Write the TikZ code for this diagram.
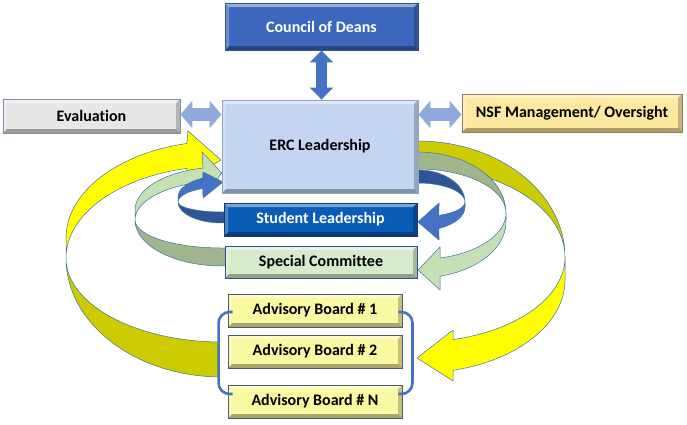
\documentclass[tikz,border=0pt]{standalone}
\usepackage{fontspec}
\setmainfont{Carlito}[Ligatures=NoCommon]
\usetikzlibrary{arrows.meta,calc}
\definecolor{ribline}{HTML}{41719C}
\definecolor{yf}{HTML}{FFFF00}
\definecolor{yb}{HTML}{CCCC00}
\definecolor{gf}{HTML}{C5E0B4}
\definecolor{gb}{HTML}{9FB68D}
\definecolor{bf}{HTML}{4472C4}
\definecolor{bb}{HTML}{2F5597}
\definecolor{deansfill}{HTML}{3B68BC}
\definecolor{deansline}{HTML}{2F528F}
\definecolor{evalfill}{HTML}{E7E7E7}
\definecolor{evalline}{HTML}{7F8FA9}
\definecolor{ercfill}{HTML}{C3D5F1}
\definecolor{ercline}{HTML}{8FA3C4}
\definecolor{nsffill}{HTML}{FFE9A0}
\definecolor{nsfline}{HTML}{8C7E5A}
\definecolor{studfill}{HTML}{0A5DB6}
\definecolor{studline}{HTML}{1F3864}
\definecolor{specfill}{HTML}{D6EBCC}
\definecolor{specline}{HTML}{2F528F}
\definecolor{advfill}{HTML}{FAF8A0}
\definecolor{advline}{HTML}{4F5B70}
\definecolor{darrlight}{HTML}{8FAADC}
\definecolor{darrdark}{HTML}{4472C4}
\definecolor{brack}{HTML}{4472C4}
\begin{document}
\begin{tikzpicture}[x=1pt,y=-1pt,
  rib/.style={draw=ribline,line width=0.5pt,line join=round},
  bevel/.style={path picture={
    \coordinate (pnw) at (path picture bounding box.north west);
    \coordinate (pne) at (path picture bounding box.north east);
    \coordinate (psw) at (path picture bounding box.south west);
    \coordinate (pse) at (path picture bounding box.south east);
    \fill[white,opacity=.45] (pnw) -- (pne) -- ([shift={(-4pt,-4pt)}]pne) -- ([shift={(4pt,-4pt)}]pnw) -- cycle;
    \fill[white,opacity=.25] (pnw) -- ([shift={(4pt,-4pt)}]pnw) -- ([shift={(4pt,4pt)}]psw) -- (psw) -- cycle;
    \fill[black,opacity=.22] (pne) -- (pse) -- ([shift={(-4pt,4pt)}]pse) -- ([shift={(-4pt,-4pt)}]pne) -- cycle;
    \fill[black,opacity=.32] (psw) -- (pse) -- ([shift={(-4pt,4pt)}]pse) -- ([shift={(4pt,4pt)}]psw) -- cycle;
  }},
  boxbase/.style={rectangle,inner sep=0pt,line width=0.9pt,bevel,
    font=\fontsize{16}{19}\selectfont\bfseries},
  dbl/.style={line width=13pt,{Triangle[length=12pt,width=27pt]}-{Triangle[length=12pt,width=27pt]}},
  dblv/.style={line width=11pt,{Triangle[length=12pt,width=23pt]}-{Triangle[length=12pt,width=23pt]}}
]
\useasboundingbox (0,0) rectangle (687,424);

% ---------- curved ribbon arrows ----------
% left yellow (back then front)
\filldraw[rib,fill=yb] ($(222,258)+(180:156 and 84)$) arc[start angle=180,end angle=91,x radius=156,y radius=84]
  -- ($(222,258)+(91:156 and 119)$) arc[start angle=91,end angle=180,x radius=156,y radius=119] -- cycle;
\filldraw[rib,fill=yf] ($(222,258)+(180:156 and 92)$) arc[start angle=180,end angle=257,x radius=156,y radius=92]
  -- (187,181) -- (221,160) -- (188,131)
  -- ($(222,238)+(257:156 and 97)$) arc[start angle=257,end angle=180,x radius=156,y radius=97] -- cycle;
% right yellow
\filldraw[rib,fill=yb] ($(418,257)+(-100:147 and 116)$) arc[start angle=-100,end angle=0,x radius=147,y radius=116]
  arc[start angle=0,end angle=-100,x radius=147,y radius=90] -- cycle;
\filldraw[rib,fill=yf] (565,257) arc[start angle=0,end angle=76.2,x radius=147,y radius=85]
  -- (453,330) -- (417,358) -- (453,381)
  -- ($(418,280)+(76.2:147 and 93)$) arc[start angle=76.2,end angle=0,x radius=147,y radius=93] -- cycle;
% left green
\filldraw[rib,fill=gb] ($(222,220)+(180:87 and 28)$) arc[start angle=180,end angle=88,x radius=87,y radius=28]
  -- ($(222,220)+(88:87 and 46)$) arc[start angle=88,end angle=180,x radius=87,y radius=46] -- cycle;
\filldraw[rib,fill=gf] ($(222,220)+(180:87 and 39)$) arc[start angle=180,end angle=257.4,x radius=87,y radius=39]
  -- (203,196) -- (222,173) -- (202,152)
  -- ($(222,210)+(257.4:87 and 43)$) arc[start angle=257.4,end angle=180,x radius=87,y radius=43] -- cycle;
% right green
\filldraw[rib,fill=gb] ($(418,213)+(-100:88 and 61)$) arc[start angle=-100,end angle=0,x radius=88,y radius=61]
  arc[start angle=0,end angle=-100,x radius=88,y radius=44] -- cycle;
\filldraw[rib,fill=gf] (506,213) arc[start angle=0,end angle=75.5,x radius=88,y radius=46.5]
  -- (440,247) -- (418,270) -- (440,290)
  -- ($(418,222)+(75.5:88 and 56)$) arc[start angle=75.5,end angle=0,x radius=88,y radius=56] -- cycle;
% left blue
\filldraw[rib,fill=bb] ($(222,202)+(180:44 and 10)$) arc[start angle=180,end angle=86,x radius=44,y radius=10]
  -- ($(222,202)+(86:44 and 21)$) arc[start angle=86,end angle=180,x radius=44,y radius=21] -- cycle;
\filldraw[rib,fill=bf] ($(222,202)+(180:44 and 15)$) arc[start angle=180,end angle=244.4,x radius=44,y radius=15]
  -- (203,198) -- (223,182) -- (203,172)
  -- ($(222,197)+(244.4:44 and 21)$) arc[start angle=244.4,end angle=180,x radius=44,y radius=21] -- cycle;
% right blue
\filldraw[rib,fill=bb] ($(418,202)+(-100:47 and 32)$) arc[start angle=-100,end angle=0,x radius=47,y radius=32]
  arc[start angle=0,end angle=-100,x radius=47,y radius=19] -- cycle;
\filldraw[rib,fill=bf] (465,202) arc[start angle=0,end angle=63.5,x radius=47,y radius=15]
  -- (439,203) -- (418,222) -- (439,240)
  -- ($(418,207)+(63.5:47 and 24)$) arc[start angle=63.5,end angle=0,x radius=47,y radius=24] -- cycle;

% ---------- boxes ----------
\node[boxbase,fill=deansfill,draw=deansline,text=white,minimum width=193pt,minimum height=47pt] (deans) at (321.5,26.5) {Council of Deans};
\node[boxbase,fill=evalfill,draw=evalline,minimum width=177pt,minimum height=34pt] (eval) at (91.5,116) {Evaluation};
\node[boxbase,fill=ercfill,draw=ercline,minimum width=196pt,minimum height=93pt] (erc) at (320,146.5) {ERC Leadership};
\node[boxbase,fill=nsffill,draw=nsfline,minimum width=220pt,minimum height=38pt] (nsf) at (572,113) {NSF Management/ Oversight};
\node[boxbase,fill=studfill,draw=studline,text=white,minimum width=193pt,minimum height=33pt] (stud) at (320.5,219.5) {Student Leadership};
\node[boxbase,fill=specfill,draw=specline,minimum width=192pt,minimum height=32pt] (spec) at (321,262) {Special Committee};
\node[boxbase,fill=advfill,draw=advline,minimum width=174pt,minimum height=33pt] (ab1) at (315,310.5) {Advisory Board \# 1};
\node[boxbase,fill=advfill,draw=advline,minimum width=174pt,minimum height=33pt] (ab2) at (315,351.5) {Advisory Board \# 2};
\node[boxbase,fill=advfill,draw=advline,minimum width=174pt,minimum height=33pt] (abN) at (315,401.5) {Advisory Board \# N};

% ---------- bracket ----------
\draw[brack,line width=2.6pt,rounded corners=11pt] ($(ab1.west)+(5,1.5)$) -- ($(ab1.west)+(-9,1.5)$) -- ($(abN.west)+(-9,-7.5)$) -- ($(abN.west)+(5,-7.5)$);
\draw[brack,line width=2.6pt,rounded corners=11pt] ($(ab1.east)+(-4,1.5)$) -- ($(ab1.east)+(10,1.5)$) -- ($(abN.east)+(10,-7.5)$) -- ($(abN.east)+(-4,-7.5)$);

% ---------- double arrows ----------
\draw[dbl,darrlight] (eval.east |- 0,114.5) -- (erc.west |- 0,114.5);
\draw[dbl,darrlight] (erc.east |- 0,114.5) -- (nsf.west |- 0,114.5);
\draw[dblv,darrdark] (deans.south) -- (deans.south |- erc.north);
\end{tikzpicture}
\end{document}
